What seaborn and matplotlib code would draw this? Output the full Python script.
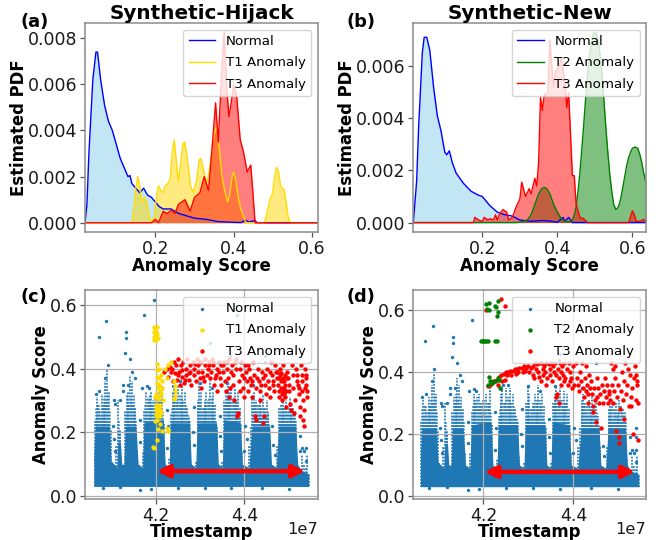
import matplotlib
matplotlib.use("Agg")
import matplotlib.pyplot as plt
import pandas as pd
import seaborn as sns

W, H = 659, 540
TIME_UNIT = 1e7
BLUE = "#1f77b4"
T1_COLOR = "#ffdc00"

# ---- density curves, panel (a)
a_normal_x = [0.02,0.025,0.03,0.04,0.048,0.052,0.06,0.07,0.08,0.09,0.10,0.11,0.12,0.13,0.135,0.14,0.15,0.16,0.17,0.18,0.19,0.20,0.21,0.22,0.24,0.26,0.28,0.30,0.33,0.36,0.40,0.42,0.43,0.44,0.455,0.46,0.616]
a_normal_y = [0,0.0008,0.0030,0.0062,0.0074,0.0074,0.0062,0.0051,0.0044,0.0040,0.0034,0.0028,0.0024,0.0020,0.00205,0.0017,0.0015,0.0013,0.0015,0.0012,0.0011,0.0009,0.0007,0.0006,0.0006,0.0004,0.0003,0.0002,0.00015,0.00005,0.00002,0.00001,0.00012,0.00003,0.0001,0,0]
a_t1_x = [.02,.14,.145,.15,.155,.16,.165,.17,.174,.18,.185,.19,.198,.203,.208,.214,.22,.225,.232,.238,.243,.248,.253,.259,.265,.27,.275,.28,.285,.29,.297,.305,.312,.316,.322,.328,.333,.34,.348,.357,.363,.37,.377,.385,.39,.396,.40,.405,.412,.418,.425,.432,.479,.485,.493,.50,.505,.51,.515,.52,.525,.53,.535,.54,.545,.616]
a_t1_y = [0,0,.0006,.0015,.0020,.0016,.0009,.00105,.0011,.0007,.0002,.00002,.0003,.0012,.0016,.0014,.0013,.0016,.0017,.0019,.0030,.0036,.0028,.0018,.0026,.0034,.0035,.0030,.0023,.0016,.0013,.0018,.0027,.0028,.0024,.0019,.0018,.0025,.0037,.0042,.0033,.0021,.0014,.0009,.0012,.0020,.0022,.0019,.0011,.0006,.0003,0,0,.0004,.0010,.0013,.0020,.0024,.0022,.0016,.0015,.0014,.0008,.0002,0,0]
a_t3_x = [0.02,0.19,0.20,0.208,0.22,0.229,0.242,0.25,0.259,0.267,0.276,0.289,0.30,0.314,0.325,0.336,0.344,0.354,0.361,0.368,0.376,0.382,0.388,0.394,0.40,0.408,0.417,0.425,0.435,0.444,0.450,0.455,0.616]
a_t3_y = [0,0,0.00015,0,0.0005,0.0004,0.00055,0.0004,0.0008,0.0009,0.0010,0.0005,0.0011,0.0013,0.0020,0.0014,0.0030,0.0052,0.0035,0.0060,0.0083,0.0060,0.0046,0.0052,0.0060,0.0055,0.0036,0.0031,0.0022,0.0025,0.0012,0,0]

# ---- density curves, panel (b)
b_normal_x = [0.016,0.025,0.03,0.04,0.045,0.052,0.06,0.07,0.08,0.09,0.10,0.105,0.112,0.12,0.13,0.15,0.17,0.19,0.20,0.22,0.24,0.26,0.28,0.30,0.33,0.36,0.38,0.40,0.415,0.42,0.43,0.44,0.637]
b_normal_y = [0,0.0016,0.0036,0.0065,0.0071,0.0071,0.0066,0.0052,0.0041,0.0035,0.0027,0.0026,0.00275,0.0023,0.0019,0.0015,0.0012,0.00105,0.0010,0.00065,0.0004,0.0003,0.00025,0.0001,0.00005,0.00008,0.00006,0.00001,0.0002,0.00005,0.0002,0,0]
b_t2_x = [.016,.29,.30,.31,.32,.33,.34,.35,.358,.365,.372,.38,.39,.40,.41,.42,.43,.44,.445,.45,.455,.46,.465,.47,.475,.48,.485,.49,.495,.50,.505,.51,.515,.52,.525,.53,.535,.54,.545,.55,.556,.56,.565,.57,.575,.58,.585,.59,.595,.60,.607,.614,.62,.625,.63,.637]
b_t2_y = [0,0,.00002,.00005,.0001,.0003,.0007,.0011,.0013,.00135,.0013,.0011,.0007,.0004,.00015,.00005,.00003,.0001,.0003,.0006,.0012,.0019,.0028,.0037,.0047,.0056,.0063,.0069,.0072,.0073,.0072,.0069,.0063,.0055,.0045,.0035,.0026,.0018,.0012,.0007,.0005,.00055,.0007,.0010,.0014,.0018,.0022,.0025,.0027,.00285,.0029,.00285,.0026,.0023,.0019,.0015]
b_t3_x = [0.016,0.176,0.18,0.19,0.20,0.205,0.215,0.22,0.23,0.235,0.24,0.245,0.255,0.265,0.27,0.28,0.29,0.30,0.305,0.315,0.325,0.33,0.34,0.345,0.35,0.355,0.36,0.365,0.375,0.38,0.385,0.39,0.395,0.405,0.41,0.42,0.425,0.43,0.435,0.44,0.445,0.45,0.46,0.47,0.48,0.59,0.60,0.605,0.61,0.62,0.63,0.637]
b_t3_y = [0,0,0.0002,0.0001,0.00005,0.0002,0.0001,0.00015,0.0001,0.0003,0.0001,0.0003,0.0005,0.0004,0.0001,0.0002,0.0006,0.0009,0.00155,0.0010,0.0013,0.0011,0.0017,0.0014,0.0023,0.0048,0.0043,0.0049,0.0050,0.0070,0.0060,0.0052,0.0058,0.0060,0.0063,0.0054,0.0044,0.0050,0.0034,0.0018,0.0018,0.0007,0.0002,0.00015,0,0,0.00045,0.0003,0.00005,0.00005,0.00012,0]

# ---- normal scores: streaks seen in the scatter panels (time in 1e7 units)
streak_t = [4.062,4.066,4.070,4.074,4.078,4.082,4.086,4.090,4.094,4.098,4.102,4.106,4.110,4.114,4.118,4.122,4.126,4.130,4.134,4.138,4.142,4.146,4.150,4.154,4.158,4.162,4.166,4.170,4.174,4.178,4.182,4.186,4.190,4.194,4.198,4.202,4.206,4.210,4.214,4.218,4.222,4.226,4.230,4.234,4.238,4.242,4.246,4.250,4.254,4.258,4.262,4.266,4.270,4.274,4.278,4.282,4.286,4.290,4.294,4.298,4.302,4.306,4.310,4.314,4.318,4.322,4.326,4.330,4.334,4.338,4.342,4.346,4.350,4.354,4.358,4.362,4.366,4.370,4.374,4.378,4.382,4.386,4.390,4.394,4.398,4.402,4.406,4.410,4.414,4.418,4.422,4.426,4.430,4.434,4.438,4.442,4.446,4.450,4.454,4.458,4.462,4.466,4.470,4.474,4.478,4.482,4.486,4.490,4.494,4.498,4.502,4.506,4.510,4.514,4.518,4.522,4.526,4.530,4.534,4.538,4.542,4.546]
streak_top = [.24,.31,.29,.27,.32,.29,.36,.40,.33,.21,.11,.09,.16,.30,.21,.12,.10,.27,.32,.33,.38,.36,.32,.28,.14,.09,.08,.14,.27,.33,.31,.32,.33,.30,.31,.31,.33,.30,.35,.23,.10,.08,.12,.26,.33,.34,.30,.35,.32,.35,.30,.33,.28,.25,.13,.10,.08,.11,.30,.36,.33,.28,.30,.33,.30,.36,.31,.33,.29,.22,.10,.08,.11,.30,.33,.36,.33,.35,.31,.34,.30,.33,.28,.14,.10,.09,.09,.16,.22,.31,.33,.30,.29,.31,.28,.32,.28,.30,.26,.16,.09,.08,.09,.16,.28,.29,.31,.28,.30,.27,.31,.29,.28,.27,.12,.09,.08,.13,.10,.09,.13,.07]
fill_t = [4.064,4.068,4.072,4.076,4.080,4.084,4.088,4.092,4.096,4.116,4.120,4.132,4.136,4.140,4.144,4.148,4.152,4.156,4.176,4.180,4.184,4.188,4.192,4.196,4.200,4.204,4.208,4.212,4.216,4.236,4.240,4.244,4.248,4.252,4.256,4.260,4.264,4.268,4.272,4.276,4.296,4.300,4.304,4.308,4.312,4.316,4.320,4.324,4.328,4.332,4.336,4.356,4.360,4.364,4.368,4.372,4.376,4.380,4.384,4.388,4.392,4.420,4.424,4.428,4.432,4.436,4.440,4.444,4.448,4.452,4.456,4.480,4.484,4.488,4.492,4.496,4.500,4.504,4.508,4.512,4.516]
fill_top = [.28,.26,.29,.25,.28,.31,.30,.32,.27,.24,.20,.26,.30,.29,.31,.29,.27,.24,.29,.27,.30,.28,.29,.27,.29,.28,.26,.30,.27,.28,.30,.27,.30,.28,.29,.31,.27,.29,.26,.24,.28,.30,.26,.28,.29,.27,.31,.28,.29,.26,.24,.29,.31,.28,.30,.27,.29,.28,.30,.26,.23,.28,.29,.27,.26,.29,.25,.28,.26,.27,.23,.26,.28,.25,.27,.26,.28,.25,.27,.26,.24]
streak_floor = 0.03
core_t = [4.060,4.063,4.095,4.099,4.112,4.114,4.120,4.123,4.128,4.131,4.155,4.160,4.170,4.173,4.217,4.221,4.230,4.233,4.276,4.280,4.290,4.293,4.337,4.341,4.350,4.353,4.391,4.395,4.410,4.417,4.457,4.461,4.472,4.477,4.516,4.520,4.528,4.545]
core_top = [.13,.22,.22,.11,.09,.17,.17,.10,.10,.22,.22,.10,.09,.23,.24,.10,.09,.23,.23,.10,.09,.23,.23,.10,.09,.24,.23,.10,.09,.22,.22,.10,.09,.22,.22,.10,.08,.07]
normal_lone = [(4.071,.50),(4.088,.55),(4.132,.515),(4.132,.495),(4.13,.45),(4.141,.43),(4.174,.57),(4.368,.44),(4.105,.30),(4.108,.29),(4.125,.35),(4.125,.33),(4.118,.30),(4.165,.17),(4.225,.15),(4.228,.22),(4.285,.16),(4.283,.20),(4.345,.19),(4.348,.14),(4.405,.18),(4.40,.14),(4.465,.16),(4.468,.13),(4.525,.19),(4.53,.15),(4.535,.14),(4.54,.15),(4.538,.11),(4.103,.22),(4.107,.14),(4.18,.345),(4.168,.34),(4.243,.36),(4.30,.355),(4.36,.355),(4.42,.35),(4.08,.025),(4.12,.028),(4.165,.02),(4.19,.022),(4.25,.025),(4.31,.026),(4.37,.024),(4.44,.025),(4.50,.023),(4.064,.32),(4.072,.33),(4.085,.37),(4.091,.41),(4.136,.35),(4.147,.39),(4.152,.37),(4.184,.34),(4.238,.345),(4.255,.36),(4.326,.34),(4.345,.25),(4.285,.28),(4.225,.27),(4.165,.24),(4.105,.18),(4.462,.22),(4.402,.22),(4.525,.14)]
normal_lone_c = [(4.195,.615),(4.383,.57),(4.323,.48),(4.446,.44),(4.446,.42)]
normal_lone_d = [(4.54,.22),(4.54,.19),(4.37,.46),(4.45,.43)]

# ---- anomalies in the scatter panels
t1_c = [(4.195,.49),(4.196,.50),(4.196,.515),(4.196,.53),(4.197,.505),(4.198,.52),(4.200,.49),(4.201,.50),(4.201,.515),(4.202,.53),(4.203,.51),(4.204,.495),
        (4.202,.415),(4.202,.395),(4.203,.375),(4.202,.355),(4.204,.34),(4.201,.32),(4.204,.305),(4.198,.31),(4.206,.40),(4.207,.37),(4.206,.35),(4.209,.33),(4.208,.31),(4.211,.38),(4.213,.36),(4.214,.34),(4.212,.32),(4.216,.30),
        (4.200,.285),(4.203,.28),(4.205,.285),(4.207,.28),(4.210,.285),(4.200,.27),(4.203,.265),(4.206,.27),(4.209,.27),(4.212,.265),(4.201,.255),(4.204,.25),(4.207,.255),(4.210,.25),(4.198,.235),(4.203,.24),(4.209,.225),(4.205,.21),(4.214,.205),
        (4.203,.175),(4.195,.15),(4.193,.155),(4.228,.205),(4.226,.215),(4.242,.36),(4.243,.345),(4.243,.33),(4.244,.315),(4.242,.305),(4.220,.40),(4.228,.41),(4.235,.42),(4.226,.37)]
t3_c = [(4.218,.39),(4.224,.40),(4.228,.375),(4.232,.405),(4.235,.39),(4.238,.36),(4.240,.42),(4.243,.385),(4.246,.41),(4.248,.365),(4.251,.43),(4.253,.39),(4.255,.35),(4.257,.41),(4.260,.375),(4.262,.42),(4.264,.355),(4.267,.40),(4.269,.38),(4.271,.43),(4.274,.365),(4.276,.41),(4.278,.39),(4.280,.35),(4.283,.42),(4.285,.38),(4.287,.40),(4.290,.36),(4.292,.43),(4.294,.39),(4.296,.41),(4.299,.37),(4.301,.34),(4.303,.42),(4.305,.39),(4.308,.36),(4.310,.41),(4.312,.43),(4.315,.38),(4.317,.40),(4.320,.42),(4.322,.37),(4.325,.39),(4.327,.43),(4.330,.41),(4.332,.35),(4.335,.38),(4.337,.40),(4.339,.33),(4.342,.42),(4.344,.37),(4.346,.41),(4.348,.35),(4.351,.39),(4.353,.42),(4.355,.36),(4.358,.33),(4.360,.40),(4.362,.37),(4.364,.43),(4.366,.31),(4.368,.34),(4.371,.41),(4.373,.38),(4.375,.35),(4.377,.30),(4.380,.43),(4.382,.40),(4.384,.25),(4.385,.26),(4.387,.36),(4.389,.33),(4.392,.42),(4.394,.38),(4.396,.34),(4.399,.31),(4.401,.41),(4.403,.39),(4.405,.36),(4.408,.33),(4.410,.40),(4.412,.37),(4.414,.35),(4.416,.31),(4.419,.42),(4.421,.38),(4.423,.25),(4.425,.24),(4.427,.34),(4.430,.40),(4.432,.36),(4.434,.33),(4.436,.30),(4.439,.39),(4.441,.37),(4.442,.23),(4.444,.25),(4.446,.35),(4.449,.32),(4.451,.40),(4.453,.36),(4.455,.34),(4.457,.31),(4.460,.42),(4.462,.38),(4.464,.36),(4.466,.33),(4.469,.41),(4.471,.39),(4.473,.37),(4.475,.35),(4.477,.33),(4.479,.31),(4.480,.40),(4.481,.38),(4.482,.36),(4.483,.34),(4.484,.32),(4.485,.30),(4.486,.37),(4.487,.33),(4.488,.41),(4.489,.36),(4.490,.34),(4.491,.38),(4.492,.31),(4.493,.33),(4.494,.28),(4.497,.39),(4.499,.37),(4.501,.33),(4.503,.29),(4.505,.27),(4.508,.41),(4.510,.34),(4.512,.26),(4.514,.30),(4.517,.40),(4.519,.38),(4.521,.35),(4.523,.32),(4.525,.28),(4.526,.25),(4.528,.41),(4.530,.36),(4.531,.33),(4.532,.30),(4.533,.24),(4.534,.22),(4.535,.27),(4.537,.40),(4.539,.37),(4.540,.35),(4.541,.33),(4.542,.31),
        (4.236,.40),(4.250,.38),(4.258,.395),(4.266,.365),(4.275,.385),(4.288,.415),(4.298,.42),(4.306,.375),(4.319,.41),(4.328,.42),(4.333,.37),(4.343,.39),(4.352,.41),(4.361,.42),(4.370,.39),(4.379,.42),(4.391,.40),(4.400,.37),(4.409,.41),(4.418,.36),(4.429,.37),(4.438,.35),(4.447,.38),(4.458,.39),(4.465,.35),(4.474,.39),(4.478,.37),(4.483,.385),(4.487,.36),(4.491,.35),(4.495,.37),(4.500,.35),(4.509,.38),(4.518,.36),(4.524,.34),(4.529,.38),(4.536,.34),(4.538,.38),(4.490,.32),(4.486,.34)]
t2_d = [(4.205,.62),(4.207,.605),(4.212,.60),(4.212,.625),(4.225,.615),(4.227,.61),(4.230,.58),(4.232,.595),(4.232,.63),(4.195,.50),(4.198,.50),(4.200,.50),(4.203,.50),(4.206,.50),(4.210,.50),(4.225,.50),(4.230,.50),(4.213,.385),(4.215,.37),(4.220,.365),(4.210,.36),(4.225,.37),(4.232,.38),(4.235,.375),(4.237,.35)]
t3_d = [(4.205,.60),(4.240,.635),(4.247,.615),(4.21,.355),(4.215,.36),(4.22,.365),(4.222,.37),(4.225,.37),(4.23,.375),(4.232,.36),(4.235,.385),(4.24,.39),(4.242,.37),(4.245,.395),(4.247,.375),(4.25,.40),(4.252,.39),(4.255,.40),(4.26,.405),(4.262,.39),(4.265,.405),(4.27,.41),(4.272,.395),(4.275,.41),(4.277,.40),(4.28,.415),(4.285,.415),(4.287,.40),(4.29,.42),(4.292,.405),(4.295,.415),(4.30,.42),(4.302,.40),(4.305,.415),(4.31,.42),(4.311,.39),(4.313,.38),(4.315,.43),(4.317,.41),(4.32,.425),(4.322,.40),(4.323,.385),(4.325,.43),(4.327,.37),(4.33,.43),(4.332,.41),(4.333,.39),(4.335,.42),(4.337,.40),(4.338,.36),(4.34,.43),(4.342,.38),(4.345,.425),(4.347,.39),(4.348,.41),(4.35,.43),(4.352,.37),(4.355,.42),(4.357,.40),(4.36,.43),(4.361,.39),(4.362,.32),(4.363,.33),(4.365,.41),(4.367,.38),(4.368,.30),(4.37,.43),(4.372,.40),(4.373,.36),(4.375,.42),(4.377,.39),(4.378,.37),(4.38,.43),(4.382,.38),(4.385,.41),(4.387,.36),(4.39,.43),(4.392,.40),(4.393,.37),(4.395,.38),(4.397,.35),(4.40,.42),(4.402,.36),(4.405,.43),(4.407,.38),(4.41,.36),(4.412,.34),(4.415,.40),(4.417,.37),(4.42,.43),(4.422,.35),(4.423,.32),(4.425,.38),(4.427,.34),(4.428,.42),(4.43,.36),(4.432,.33),(4.433,.30),(4.435,.39),(4.437,.35),(4.44,.37),(4.442,.33),(4.443,.29),(4.444,.27),(4.445,.35),(4.447,.31),(4.45,.24),(4.452,.32),(4.453,.38),(4.455,.35),(4.457,.30),(4.46,.33),(4.462,.22),(4.463,.36),(4.465,.30),(4.467,.34),(4.47,.38),(4.472,.32),(4.475,.36),(4.477,.30),(4.478,.34),(4.48,.33),(4.482,.31),(4.483,.43),(4.485,.36),(4.487,.41),(4.488,.30),(4.49,.34),(4.492,.38),(4.493,.42),(4.495,.21),(4.497,.32),(4.50,.36),(4.501,.19),(4.502,.17),(4.503,.28),(4.505,.34),(4.507,.40),(4.51,.31),(4.512,.25),(4.513,.37),(4.515,.43),(4.517,.33),(4.52,.36),(4.522,.41),(4.523,.29),(4.525,.39),(4.527,.32),(4.528,.29),(4.53,.35),(4.532,.20),(4.535,.38),(4.537,.42),(4.538,.31),(4.54,.39),(4.541,.37),(4.542,.36),(4.543,.18),(4.544,.30)]

span_start, span_end, span_score = 4.202, 4.537, 0.078


def make_axes(left, right, top, bottom):
    return fig.add_axes([left / W, 1 - bottom / H, (right - left) / W, (bottom - top) / H])


def style(ax):
    for s in ax.spines.values():
        s.set_color("#8c8c8c")
        s.set_linewidth(1.1)
    ax.tick_params(labelsize=12.5, length=3.5, width=0.9, color="#555555", labelcolor="#1a1a1a", pad=2)


def density(ax, xs, ys, color, fill, alpha, label):
    ax.fill_between(xs, ys, 0, color=fill, alpha=alpha, linewidth=0)
    sns.lineplot(x=xs, y=ys, color=color, linewidth=1, label=label, ax=ax, estimator=None, sort=False)


def finish_legend(ax):
    ax.legend(loc="upper right", fontsize=9.6, labelspacing=0.62, borderaxespad=0.5, framealpha=0.8)


def points(ax, pts, color, size, label=None, zorder=2):
    df = pd.DataFrame(pts, columns=["t", "score"])
    df["t"] = df["t"] * TIME_UNIT
    sns.scatterplot(data=df, x="t", y="score", color=color, s=size, linewidth=0, label=label, ax=ax, zorder=zorder)


def scatter_panel(ax, lone, anomaly_pts, anomaly_color, anomaly_label, t3_pts):
    ax.fill_between([t * TIME_UNIT for t in core_t], streak_floor, core_top, color=BLUE, linewidth=0, zorder=1)
    ax.vlines([t * TIME_UNIT for t in streak_t], streak_floor, streak_top, color=BLUE, linewidth=1.2, linestyles=(0, (1.1, 0.8)), zorder=1)
    ax.vlines([t * TIME_UNIT for t in fill_t], streak_floor, fill_top, color=BLUE, linewidth=1.1, linestyles=(0.7, (1.0, 1.1)), zorder=1)
    points(ax, lone, BLUE, 6, "Normal")
    points(ax, anomaly_pts, anomaly_color, 10, anomaly_label, 2.2)
    points(ax, t3_pts, "red", 10, "T3 Anomaly", 2.1)
    ax.grid(True, color="#b0b0b0", linewidth=0.9)
    ax.annotate("", xy=(span_start * TIME_UNIT, span_score), xytext=(span_end * TIME_UNIT, span_score),
                arrowprops=dict(arrowstyle="<|-|>", color="red", lw=3.2, mutation_scale=18, shrinkA=0, shrinkB=0), zorder=5)
    ax.set_xticks([4.2 * TIME_UNIT, 4.4 * TIME_UNIT])
    ax.set_yticks([0.0, 0.2, 0.4, 0.6])
    ax.set_xlabel("Timestamp", fontsize=11.9, fontweight="bold", labelpad=-1.2)
    ax.set_ylabel("Anomaly Score", fontsize=11.9, fontweight="bold", labelpad=0)
    ax.xaxis.OFFSETTEXTPAD = -2
    ax.xaxis.get_offset_text().set_fontsize(11.8)
    finish_legend(ax)
    style(ax)


fig = plt.figure(figsize=(W / 100, H / 100), dpi=100)

# (a)
ax = make_axes(85, 318, 23, 232)
density(ax, a_normal_x, a_normal_y, "blue", "skyblue", 0.5, "Normal")
density(ax, a_t1_x, a_t1_y, T1_COLOR, "gold", 0.5, "T1 Anomaly")
density(ax, a_t3_x, a_t3_y, "red", "red", 0.5, "T3 Anomaly")
ax.set_xlim(0.02, 0.616)
ax.set_ylim(-0.0004, 0.00866)
ax.set_xticks([0.2, 0.4, 0.6])
ax.set_yticks([0, 0.002, 0.004, 0.006, 0.008])
ax.set_title("Synthetic-Hijack", fontsize=14.4, fontweight="bold", pad=3)
ax.set_xlabel("Anomaly Score", fontsize=11.9, fontweight="bold", labelpad=-0.8)
ax.set_ylabel("Estimated PDF", fontsize=11.9, fontweight="bold", labelpad=0)
finish_legend(ax)
style(ax)

# (b)
ax = make_axes(413.3, 646.3, 23, 232)
density(ax, b_normal_x, b_normal_y, "blue", "skyblue", 0.5, "Normal")
density(ax, b_t2_x, b_t2_y, "green", "green", 0.5, "T2 Anomaly")
density(ax, b_t3_x, b_t3_y, "red", "red", 0.5, "T3 Anomaly")
ax.set_xlim(0.016, 0.637)
ax.set_ylim(-0.00036, 0.00765)
ax.set_xticks([0.2, 0.4, 0.6])
ax.set_yticks([0, 0.002, 0.004, 0.006])
ax.set_title("Synthetic-New", fontsize=14.4, fontweight="bold", pad=3)
ax.set_xlabel("Anomaly Score", fontsize=11.9, fontweight="bold", labelpad=-0.8)
ax.set_ylabel("Estimated PDF", fontsize=11.9, fontweight="bold", labelpad=0)
finish_legend(ax)
style(ax)

# (c)
ax = make_axes(85, 318, 290, 499)
scatter_panel(ax, normal_lone + normal_lone_c, t1_c, T1_COLOR, "T1 Anomaly", t3_c)
ax.set_xlim(4.04 * TIME_UNIT, 4.566 * TIME_UNIT)
ax.set_ylim(-0.0094, 0.647)

# (d)
ax = make_axes(413.3, 646.3, 290, 499)
scatter_panel(ax, normal_lone + normal_lone_d, t2_d, "green", "T2 Anomaly", t3_d)
ax.set_xlim(4.044 * TIME_UNIT, 4.562 * TIME_UNIT)
ax.set_ylim(-0.0097, 0.6656)

for label, x, y in [("(a)", 21, 27), ("(b)", 347, 27), ("(c)", 21, 302), ("(d)", 347, 302)]:
    fig.text(x / W, 1 - y / H, label, fontsize=12.8, fontweight="bold")

fig.savefig("out.png", dpi=100)
